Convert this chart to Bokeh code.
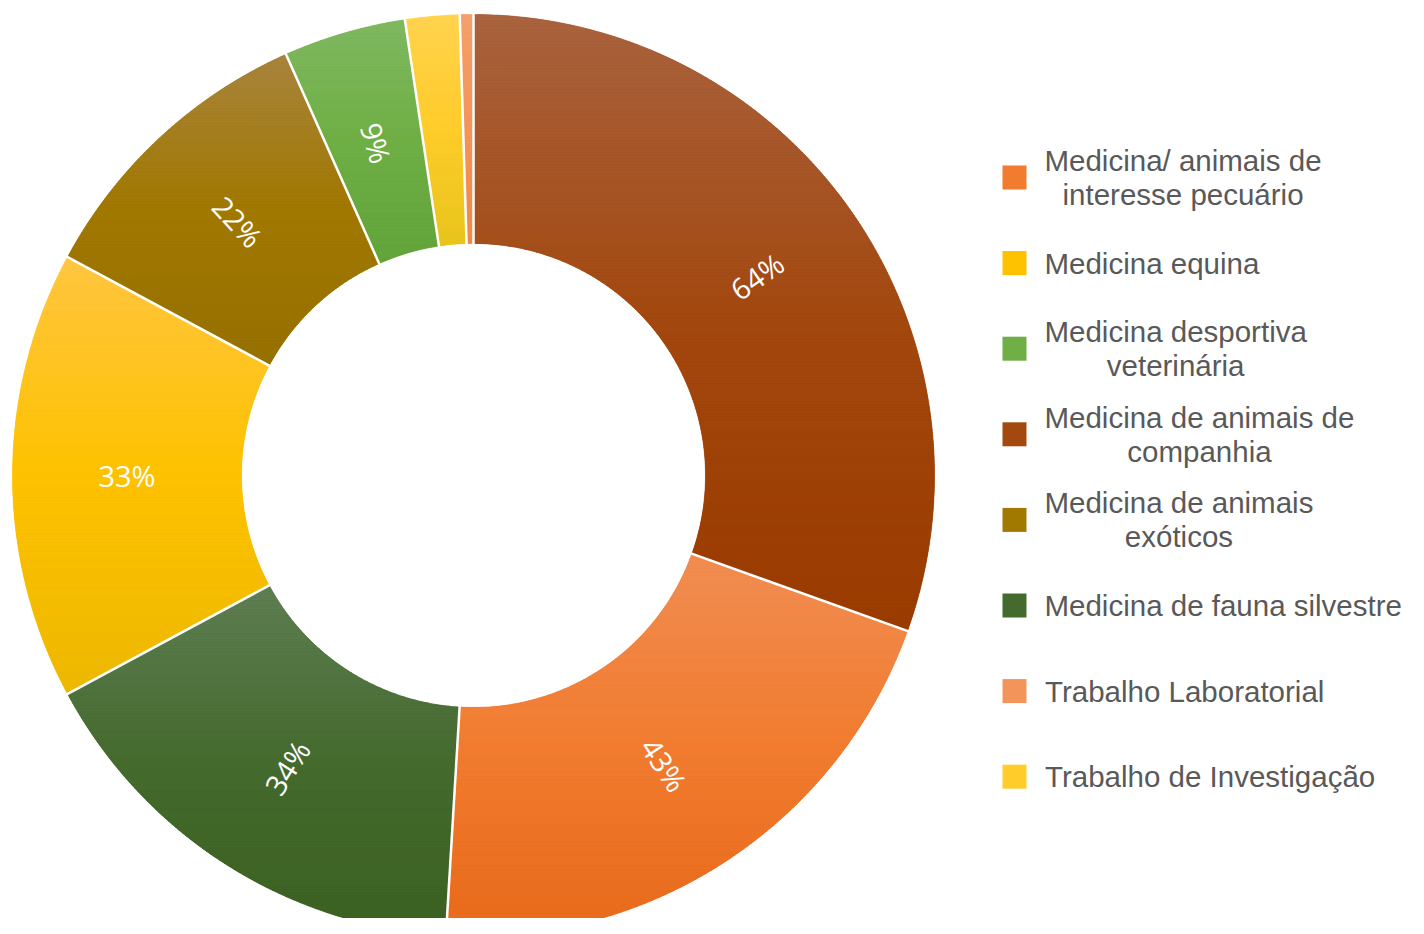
import math
from bokeh.plotting import figure
from bokeh.models import Range1d
from bokeh.core.properties import value
from bokeh.embed import file_html
from bokeh.resources import INLINE

# ---------------- data ----------------
categories = [
    "Medicina/ animais de\ninteresse pecuário",
    "Medicina equina",
    "Medicina desportiva\nveterinária",
    "Medicina de animais de\ncompanhia",
    "Medicina de animais\nexóticos",
    "Medicina de fauna silvestre",
    "Trabalho Laboratorial",
    "Trabalho de Investigação",
]
values = [43, 33, 9, 64, 22, 34, 1, 4]

top_colors = ["#F18D53", "#FFC642", "#80B862", "#A9633F", "#A8843E", "#5F7E53", "#F4A06C", "#FFD34F"]
mid_colors = ["#F17C30", "#FEC200", "#6FAF45", "#A3480F", "#A17800", "#456A2E", "#F3955A", "#FFCC2A"]
bot_colors = ["#E8691A", "#EDB800", "#62A43A", "#9A3B00", "#967000", "#3B6121", "#F08A48", "#E8C41C"]

# ---------------- layout ----------------
CX, CY = 473.0, -475.0
R_OUT, R_IN = 461.0, 232.0
R_LABEL = (R_OUT + R_IN) / 2
MIN_LABEL = 5

LEG_MARK_X = 1014.0
LEG_TEXT_X = 1044.0
LEG_Y0 = 177.0
LEG_STEP = 85.6
LEG_FS = 29.5
LEG_LINE = 34.0
LEG_COLOR = "#595959"

ARIAL = {' ': 278, '/': 278, 'M': 833, 'T': 611, 'L': 556, 'I': 278, 'a': 556, 'b': 556,
         'c': 500, 'd': 556, 'e': 556, 'f': 278, 'g': 556, 'h': 556, 'i': 222, 'l': 222,
         'm': 833, 'n': 556, 'o': 556, 'p': 556, 'q': 556, 'r': 333, 's': 500, 't': 278,
         'u': 556, 'v': 500, 'x': 500, 'á': 556, 'ó': 556, 'ã': 556, 'ç': 500}


def text_width(s, fs):
    return sum(ARIAL.get(ch, 556) for ch in s) / 1000.0 * fs


def hex_to_rgb(h):
    h = h.lstrip("#")
    return [int(h[i:i + 2], 16) for i in (0, 2, 4)]


def mix(c1, c2, t):
    a, b = hex_to_rgb(c1), hex_to_rgb(c2)
    return "#%02X%02X%02X" % tuple(int(round(a[k] + (b[k] - a[k]) * t)) for k in range(3))


def grad_color(i, t):
    if t <= 0.5:
        return mix(top_colors[i], mid_colors[i], t / 0.5)
    return mix(mid_colors[i], bot_colors[i], (t - 0.5) / 0.5)


def clip(poly, y0, keep_above):
    out = []
    n = len(poly)
    for k in range(n):
        P = poly[k - 1]
        Q = poly[k]
        inP = P[1] >= y0 if keep_above else P[1] <= y0
        inQ = Q[1] >= y0 if keep_above else Q[1] <= y0
        if inQ:
            if not inP:
                t = (y0 - P[1]) / (Q[1] - P[1])
                out.append((P[0] + t * (Q[0] - P[0]), y0))
            out.append(Q)
        elif inP:
            t = (y0 - P[1]) / (Q[1] - P[1])
            out.append((P[0] + t * (Q[0] - P[0]), y0))
    return out


p = figure(width=1408, height=918, x_range=Range1d(0, 1408), y_range=Range1d(-918, 0),
           toolbar_location=None, output_backend="svg", min_border=0)
p.axis.visible = False
p.grid.visible = False
p.outline_line_color = None
p.background_fill_color = "white"

total = float(sum(values))
order = sorted(range(len(values)), key=lambda k: -values[k])

# angles (math convention, degrees), clockwise from 12 o'clock
starts, ends = {}, {}
cum = 0.0
for i in order:
    a0 = 90.0 - cum / total * 360.0
    cum += values[i]
    a1 = 90.0 - cum / total * 360.0
    starts[i], ends[i] = a0, a1

# base wedges
p.annular_wedge(x=CX, y=CY, inner_radius=R_IN, outer_radius=R_OUT,
                start_angle=[math.radians(starts[i]) for i in order],
                end_angle=[math.radians(ends[i]) for i in order],
                direction="clock", fill_color=[mid_colors[i] for i in order], line_color=None)

# vertical gradient bands
bx, by, bc = [], [], []
for i in order:
    a0, a1 = starts[i], ends[i]
    nseg = max(4, int(abs(a0 - a1) / 0.4))
    poly = []
    for k in range(nseg + 1):
        a = math.radians(a0 + (a1 - a0) * k / nseg)
        poly.append((CX + R_OUT * math.cos(a), CY + R_OUT * math.sin(a)))
    for k in range(nseg, -1, -1):
        a = math.radians(a0 + (a1 - a0) * k / nseg)
        poly.append((CX + R_IN * math.cos(a), CY + R_IN * math.sin(a)))
    ymax = max(pt[1] for pt in poly)
    ymin = min(pt[1] for pt in poly)
    nb = max(2, int((ymax - ymin) / 3.0))
    h = (ymax - ymin) / nb
    for b in range(nb):
        yt = ymax - b * h
        yb = yt - h
        piece = clip(clip(poly, yb, True), yt, False)
        if len(piece) < 3:
            continue
        t = (b + 0.5) / nb
        bx.append([pt[0] for pt in piece])
        by.append([pt[1] for pt in piece])
        bc.append(grad_color(i, t))
p.patches(xs=bx, ys=by, fill_color=bc, line_color=bc, line_width=0.6)

# white separators
sx0, sy0, sx1, sy1 = [], [], [], []
for i in order:
    a = math.radians(starts[i])
    sx0.append(CX + (R_IN - 1) * math.cos(a))
    sy0.append(CY + (R_IN - 1) * math.sin(a))
    sx1.append(CX + (R_OUT + 2) * math.cos(a))
    sy1.append(CY + (R_OUT + 2) * math.sin(a))
p.segment(x0=sx0, y0=sy0, x1=sx1, y1=sy1, line_color="white", line_width=2.5)

# percentage labels
lx, ly, lt, la = [], [], [], []
for i in order:
    if values[i] < MIN_LABEL:
        continue
    am = (starts[i] + ends[i]) / 2.0
    ar = math.radians(am)
    lx.append(CX + R_LABEL * math.cos(ar))
    ly.append(CY + R_LABEL * math.sin(ar))
    lt.append("%d%%" % values[i])
    rot = am
    while rot > 90:
        rot -= 180
    while rot <= -90:
        rot += 180
    la.append(math.radians(rot))
p.text(x=lx, y=ly, text=lt, angle=la, text_color="white", text_font=value("Open Sans"),
       text_font_size="29px", text_align="center", text_baseline="middle")

# legend (drawn manually: multi-line centred labels)
mx, my = [], []
tx, ty, tt = [], [], []
for j, cat in enumerate(categories):
    cy = -(LEG_Y0 + j * LEG_STEP)
    mx.append(LEG_MARK_X)
    my.append(cy)
    lines = cat.split("\n")
    w = max(text_width(s, LEG_FS) for s in lines)
    cx = LEG_TEXT_X + w / 2.0
    nl = len(lines)
    for k, s in enumerate(lines):
        tx.append(cx)
        ty.append(cy - (k - (nl - 1) / 2.0) * LEG_LINE)
        tt.append(s)
p.rect(x=mx, y=my, width=24, height=24, fill_color=mid_colors, line_color=None)
p.text(x=tx, y=ty, text=tt, text_color=LEG_COLOR, text_font=value("Liberation Sans"),
       text_font_size="%gpx" % LEG_FS, text_align="center", text_baseline="middle")

open("out.html", "w").write(file_html(p, INLINE))
